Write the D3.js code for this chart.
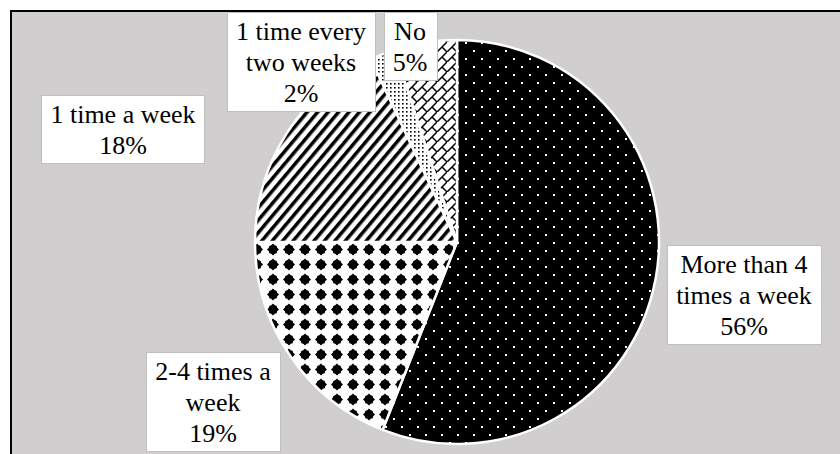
<!DOCTYPE html>
<html>
<head>
<meta charset="utf-8">
<script src="https://cdn.jsdelivr.net/npm/d3@7"></script>
<style>
  body { margin: 0; background: #fff; }
  svg { display: block; }
</style>
</head>
<body>
<div id="chart"></div>
<script>
// data
const categories = ["More than 4 times a week", "2-4 times a week", "1 time a week", "1 time every two weeks", "No"];
const catLines = [["More than 4", "times a week"], ["2-4 times a", "week"], ["1 time a week"], ["1 time every", "two weeks"], ["No"]];
const values = [56, 19, 18, 2, 5];
const patterns = ["pDots", "pDiamond", "pStripe", "pFine", "pBrick"];

// label box centres (placed by hand in the original)
const labelPos = [[744, 294], [213, 401], [123, 129], [301, 61], [410, 46]];

const width = 840, height = 454;
const cx = 457, cy = 242, radius = 202;

const svg = d3.select("#chart").append("svg")
    .attr("width", width)
    .attr("height", height);

// chart area
svg.append("rect")
    .attr("x", 11).attr("y", 11)
    .attr("width", 900).attr("height", 500)
    .attr("fill", "#d0cece")
    .attr("stroke", "#000")
    .attr("stroke-width", 2);

// fill patterns
const defs = svg.append("defs");

const pDots = defs.append("pattern").attr("id", "pDots")
    .attr("patternUnits", "userSpaceOnUse").attr("width", 16).attr("height", 16);
pDots.append("rect").attr("width", 16).attr("height", 16).attr("fill", "#000");
pDots.append("rect").attr("x", 0).attr("y", 0).attr("width", 2).attr("height", 2).attr("fill", "#fff");
pDots.append("rect").attr("x", 8).attr("y", 8).attr("width", 2).attr("height", 2).attr("fill", "#fff");

const pDia = defs.append("pattern").attr("id", "pDiamond")
    .attr("patternUnits", "userSpaceOnUse").attr("width", 16).attr("height", 15);
pDia.append("rect").attr("width", 16).attr("height", 15).attr("fill", "#fff");
pDia.append("path").attr("d", "M8,1.5 L14,7.5 L8,13.5 L2,7.5 Z").attr("fill", "#000");
pDia.append("rect").attr("x", 4).attr("y", 3.5).attr("width", 8).attr("height", 8)
    .attr("rx", 1.5).attr("fill", "#000");

const pStr = defs.append("pattern").attr("id", "pStripe")
    .attr("patternUnits", "userSpaceOnUse").attr("width", 8).attr("height", 8)
    .attr("patternTransform", "rotate(40)");
pStr.append("rect").attr("width", 8).attr("height", 8).attr("fill", "#fff");
pStr.append("rect").attr("width", 3.5).attr("height", 8).attr("fill", "#000");

const pFine = defs.append("pattern").attr("id", "pFine")
    .attr("patternUnits", "userSpaceOnUse").attr("width", 4).attr("height", 4);
pFine.append("rect").attr("width", 4).attr("height", 4).attr("fill", "#fff");
pFine.append("rect").attr("x", 1).attr("y", 1).attr("width", 1.6).attr("height", 1.6).attr("fill", "#000");

const pBrick = defs.append("pattern").attr("id", "pBrick")
    .attr("patternUnits", "userSpaceOnUse").attr("width", 10).attr("height", 10);
pBrick.append("rect").attr("width", 10).attr("height", 10).attr("fill", "#fff");
pBrick.append("path").attr("d", "M-1,11 L11,-1 M5,5 L10,10")
    .attr("stroke", "#000").attr("stroke-width", 1.5).attr("fill", "none");

// pie
const pie = d3.pie().sort(null).value(d => d)
    .startAngle(0).endAngle(2 * Math.PI);
const arc = d3.arc().innerRadius(0).outerRadius(radius);

const g = svg.append("g").attr("transform", `translate(${cx},${cy})`);

g.selectAll("path.slice")
    .data(pie(values))
    .join("path")
      .attr("class", "slice")
      .attr("d", arc)
      .attr("fill", (d, i) => `url(#${patterns[i]})`)
      .attr("stroke", "#fff")
      .attr("stroke-width", 2.5)
      .attr("stroke-linejoin", "round");

// data labels
const lineH = 31, padX = 9, padY = 3;
const labels = svg.append("g").attr("class", "labels");

values.forEach(function(v, i) {
    const lines = catLines[i].concat([v + "%"]);
    const [lx, ly] = labelPos[i];
    const lg = labels.append("g");
    const box = lg.append("rect")
        .attr("fill", "#fff")
        .attr("stroke", "#bfbfbf")
        .attr("stroke-width", 1);
    const txt = lg.append("text")
        .attr("text-anchor", "middle")
        .style("font-family", "'Liberation Serif', 'Times New Roman', serif")
        .style("font-size", "26px")
        .attr("fill", "#000");
    const top = ly - lines.length * lineH / 2;
    lines.forEach(function(s, k) {
        txt.append("tspan")
            .attr("x", lx)
            .attr("y", top + k * lineH + 25)
            .text(s);
    });
    let w = 0;
    txt.selectAll("tspan").each(function() { w = Math.max(w, this.getComputedTextLength()); });
    box.attr("x", Math.round(lx - w / 2 - padX) + 0.5)
       .attr("y", Math.round(top - padY) + 0.5)
       .attr("width", Math.round(w + 2 * padX))
       .attr("height", Math.round(lines.length * lineH + 2 * padY));
});
</script>
</body>
</html>
